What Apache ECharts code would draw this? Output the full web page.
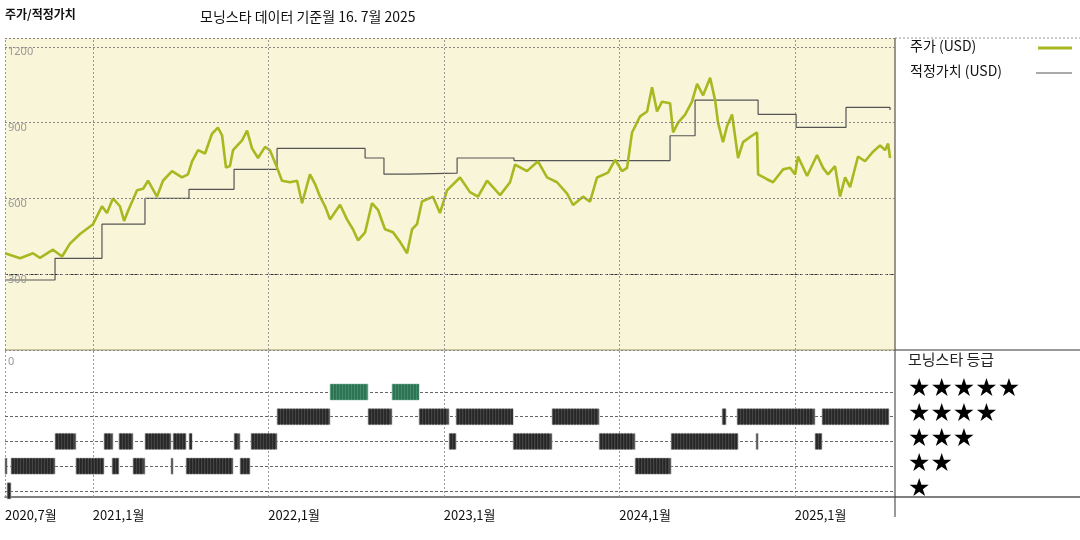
<!DOCTYPE html>
<html><head><meta charset="utf-8">
<script src="https://cdn.jsdelivr.net/npm/echarts@6/dist/echarts.min.js"></script>
<style>html,body{margin:0;padding:0;background:#fff}#c{width:1080px;height:540px}</style>
</head><body><div id="c"></div>
<script>
// x = months since 2020-07
const price = [[0,383],[1.03,363],[1.91,383],[2.39,365],[3.28,397],[3.9,370],[4.44,421],[5.13,459],[6.02,498],[6.63,569],[6.97,542],[7.38,600],[7.86,569],[8.14,511],[8.41,550],[9.03,632],[9.44,638],[9.78,670],[10.39,607],[10.8,670],[11.42,708],[12.1,683],[12.51,695],[12.79,747],[13.2,791],[13.68,778],[14.15,856],[14.56,880],[14.84,850],[15.11,722],[15.38,728],[15.59,791],[16.21,830],[16.55,868],[16.89,798],[17.3,760],[17.78,804],[18.12,790],[18.6,722],[18.94,670],[19.49,664],[19.97,670],[20.31,581],[20.85,695],[21.2,657],[21.54,607],[21.88,569],[22.22,517],[22.91,575],[23.38,517],[23.79,478],[24.14,434],[24.62,466],[25.09,581],[25.5,555],[25.98,478],[26.53,466],[27.01,428],[27.49,383],[27.83,478],[28.17,498],[28.51,588],[29.26,607],[29.74,542],[30.22,632],[31.11,683],[31.79,625],[32.34,607],[32.96,670],[33.85,613],[34.53,664],[34.87,734],[35.69,708],[36.44,747],[37.06,683],[37.74,664],[38.43,619],[38.84,574],[39.52,607],[40,587],[40.48,683],[41.23,702],[41.71,753],[42.19,708],[42.53,721],[42.87,861],[43.42,925],[43.9,944],[44.24,1040],[44.58,944],[44.92,983],[45.47,977],[45.68,861],[46.02,900],[46.5,932],[46.97,983],[47.32,1053],[47.73,1008],[48.21,1078],[48.55,989],[48.75,900],[49.09,823],[49.37,887],[49.71,932],[50.12,760],[50.46,823],[51.08,849],[51.42,861],[51.49,695],[52.1,676],[52.51,664],[53.2,715],[53.68,721],[54.02,695],[54.22,766],[54.84,689],[55.52,772],[55.93,721],[56.27,695],[56.75,728],[57.09,607],[57.44,683],[57.78,645],[58.32,766],[58.8,747],[59.35,785],[59.83,810],[60.17,791],[60.38,817],[60.51,760]];
const fairValue = [[0,277],[3.42,363],[6.63,498],[9.57,600],[12.58,636],[15.66,715],[18.6,798],[24.62,760],[25.91,696],[27.56,700],[30.91,760],[34.8,750],[45.47,848],[47.18,989],[51.49,933],[54.09,881],[57.5,960],[60.51,950]];
// [start, end, stars]
const ratings = [[0,0.14,2],[0.14,0.41,1],[0.41,3.42,2],[3.42,4.85,3],[4.85,6.77,2],[6.77,7.38,3],[7.32,7.79,2],[7.79,8.75,3],[8.75,9.57,2],[9.57,11.35,3],[11.35,11.49,2],[11.49,12.38,3],[12.38,15.59,2],[12.58,12.79,3],[15.66,16.07,3],[16.07,16.75,2],[16.82,18.6,3],[18.6,22.22,4],[22.22,24.82,5],[24.82,26.46,4],[26.46,28.31,5],[28.31,30.36,4],[30.36,30.84,3],[30.84,34.74,4],[34.74,37.4,3],[37.4,40.62,4],[40.62,43.08,3],[43.08,45.54,2],[45.54,50.12,3],[49.03,49.3,4],[50.05,55.38,4],[51.35,51.49,3],[55.38,55.86,3],[55.86,60.44,4]];
const yTicks = [0,300,600,900,1200];
const yearMarks = [6,18,30,42,54];
const months = ['2020,7월','2021,1월','2022,1월','2023,1월','2024,1월','2025,1월'];

const chart = echarts.init(document.getElementById('c'));
const vlines = yearMarks.map(v=>({xAxis:v}));
chart.setOption({
  animation:false,
  grid:[{left:5,top:38,width:890,height:312,show:true,backgroundColor:'#f9f5d8',borderWidth:0},{left:5,top:350,width:890,height:147}],
  xAxis:[
    {type:'value',gridIndex:0,min:0,max:60.85,interval:6,axisLine:{show:false},axisTick:{show:false},axisLabel:{show:false},splitLine:{show:false}},
    {type:'value',gridIndex:1,min:0,max:60.85,interval:6,axisLine:{show:true,lineStyle:{color:'#555',width:1.5}},axisTick:{show:false},splitLine:{show:false},
     axisLabel:{align:'left',margin:12,color:'#111',fontSize:13,fontFamily:'Noto Sans CJK KR',
       formatter:v=>{ if(v===0) return months[0]; if((v-6)%12===0) return months[(v-6)/12+1]; return ''; }}}
  ],
  yAxis:[
    {type:'value',gridIndex:0,min:0,max:1235,interval:300,axisLine:{show:false},axisTick:{show:false},z:10,
     axisLabel:{inside:true,margin:3,verticalAlign:'top',color:'#999',fontSize:11,fontFamily:'Noto Sans',formatter:v=>v===0?'':String(v)},
     splitLine:{show:true,lineStyle:{type:[2,2],color:'#888'}}},
    {type:'value',gridIndex:1,min:0.75,max:6.7,axisLine:{show:false},axisTick:{show:false},axisLabel:{show:false},splitLine:{show:false}}
  ],
  series:[
    {type:'line',xAxisIndex:0,yAxisIndex:0,data:[],silent:true,
     markLine:{silent:true,symbol:'none',label:{show:false},lineStyle:{type:[2,2],color:'#999',width:1},data:vlines.concat([{xAxis:0.02},{yAxis:1233}])}},
    {type:'line',xAxisIndex:0,yAxisIndex:0,data:[],silent:true,
     markLine:{silent:true,symbol:'none',label:{show:false},lineStyle:{type:[3,2],color:'#333',width:1},data:[{yAxis:300}]}},
    {name:'적정가치',type:'line',step:'end',xAxisIndex:0,yAxisIndex:0,data:fairValue,showSymbol:false,lineStyle:{color:'#555',width:1.2},z:3},
    {name:'주가',type:'line',xAxisIndex:0,yAxisIndex:0,data:price,showSymbol:false,lineStyle:{color:'#a8b820',width:2.6},z:4},
    {type:'line',xAxisIndex:1,yAxisIndex:1,data:[],silent:true,
     markLine:{silent:true,symbol:'none',label:{show:false},lineStyle:{type:[2,2],color:'#999',width:1},data:vlines.concat([{xAxis:0.02}])}},
    {type:'line',xAxisIndex:1,yAxisIndex:1,data:[],silent:true,
     markLine:{silent:true,symbol:'none',label:{show:false},lineStyle:{type:[3,2],color:'#666',width:1},data:[1,2,3,4,5].map(v=>({yAxis:v}))}},
    {type:'custom',xAxisIndex:1,yAxisIndex:1,data:ratings,z:5,
     renderItem:(params,api)=>{
       const a=api.coord([api.value(0),api.value(2)]), b=api.coord([api.value(1),api.value(2)]);
       const h=16, w=Math.max(b[0]-a[0],1.5);
       const green=api.value(2)===5;
       const children=[{type:'rect',shape:{x:a[0],y:a[1]-h/2,width:w,height:h},style:{fill:green?'#3f8a68':'#444',stroke:green?'#9cc7b2':'#aaa',lineWidth:0.6}}];
       for(let x=a[0]+2;x<a[0]+w-1;x+=3){children.push({type:'line',shape:{x1:x,y1:a[1]-h/2,x2:x,y2:a[1]+h/2},style:{stroke:green?'#1f5e42':'#111',lineWidth:1}});}
       return {type:'group',children};
     }}
  ],
  graphic:[
    {type:'text',left:5,top:8,style:{text:'주가/적정가치',font:'bold 12px "Noto Sans CJK KR"',fill:'#111'}},
    {type:'text',left:200,top:10,style:{text:'모닝스타 데이터 기준월 16. 7월 2025',font:'14px "Noto Sans CJK KR"',fill:'#111'}},
    {type:'line',shape:{x1:895,y1:38,x2:1080,y2:38},style:{stroke:'#999',lineWidth:1,lineDash:[2,2]}},
    {type:'line',shape:{x1:895,y1:350,x2:1080,y2:350},style:{stroke:'#333',lineWidth:1}},
    {type:'line',shape:{x1:5,y1:350,x2:895,y2:350},style:{stroke:'#9a9060',lineWidth:1}},
    {type:'line',shape:{x1:895,y1:497,x2:1080,y2:497},style:{stroke:'#555',lineWidth:1.5}},
    {type:'line',shape:{x1:895,y1:38,x2:895,y2:517},style:{stroke:'#333',lineWidth:1}},
    {type:'text',left:910,top:39,style:{text:'주가 (USD)',font:'14px "Noto Sans CJK KR"',fill:'#111'}},
    {type:'line',shape:{x1:1038,y1:48,x2:1072,y2:48},style:{stroke:'#a8b820',lineWidth:3}},
    {type:'text',left:910,top:64,style:{text:'적정가치 (USD)',font:'14px "Noto Sans CJK KR"',fill:'#111'}},
    {type:'line',shape:{x1:1036,y1:73,x2:1072,y2:73},style:{stroke:'#555',lineWidth:1.2}},
    {type:'text',left:8,top:356,style:{text:'0',font:'11px "Noto Sans"',fill:'#999'}},
    {type:'text',left:908,top:352,style:{text:'모닝스타 등급',font:'15px "Noto Sans CJK KR"',fill:'#222'}},
    {type:'text',left:908,top:377,style:{text:'★★★★★',font:'25px "DejaVu Sans"',fill:'#000'}},
    {type:'text',left:908,top:402,style:{text:'★★★★',font:'25px "DejaVu Sans"',fill:'#000'}},
    {type:'text',left:908,top:427,style:{text:'★★★',font:'25px "DejaVu Sans"',fill:'#000'}},
    {type:'text',left:908,top:452,style:{text:'★★',font:'25px "DejaVu Sans"',fill:'#000'}},
    {type:'text',left:908,top:477,style:{text:'★',font:'25px "DejaVu Sans"',fill:'#000'}}
  ]
});
</script></body></html>
